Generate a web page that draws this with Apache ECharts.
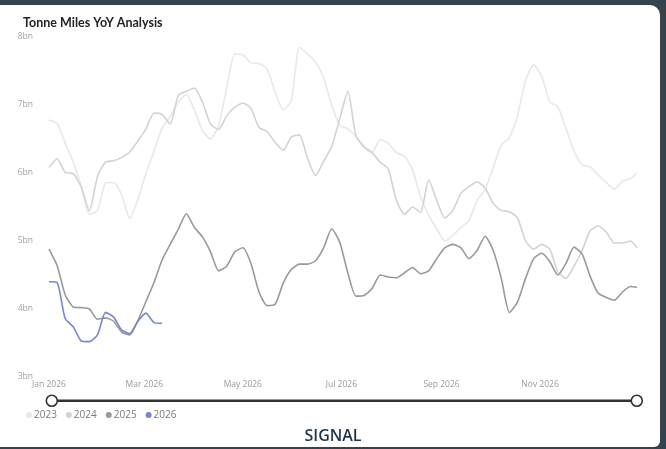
<!DOCTYPE html>
<html>
<head>
<meta charset="utf-8">
<script src="https://cdn.jsdelivr.net/npm/echarts@6/dist/echarts.min.js"></script>
<style>
  html, body { margin: 0; padding: 0; width: 666px; height: 449px; overflow: hidden; background: #34434d; }
  #card { position: absolute; left: 0; top: 5px; width: 660px; height: 442px; background: #ffffff; border-radius: 0 10px 6px 0; }
  #chart { position: absolute; left: 0; top: 0; width: 666px; height: 449px; }
</style>
</head>
<body>
<div id="card"></div>
<div id="chart"></div>
<script>
// ---- data (values in billions of tonne-miles, sampled every 5 days from Jan 1) ----
const seriesNames = ['2023', '2024', '2025', '2026'];
const stepDays = 5;
const lastDay = 364;
const tickDays = [0, 59, 120, 181, 243, 304];
const tickLabels = ['Jan 2026', 'Mar 2026', 'May 2026', 'Jul 2026', 'Sep 2026', 'Nov 2026'];
const yTicks = [3, 4, 5, 6, 7, 8];

const values2023 = [6.78, 6.73, 6.44, 6.16, 5.80, 5.39, 5.45, 5.85, 5.86, 5.68,
  5.33, 5.61, 5.99, 6.32, 6.66, 6.83, 7.04, 7.15, 6.93, 6.62,
  6.50, 6.70, 7.25, 7.75, 7.74, 7.62, 7.61, 7.53, 7.19, 6.93,
  7.06, 7.85, 7.75, 7.63, 7.40, 7.00, 6.70, 6.65, 6.53, 6.37,
  6.30, 6.49, 6.44, 6.30, 6.25, 6.05, 5.65, 5.38, 5.18, 5.00,
  5.08, 5.20, 5.30, 5.60, 5.76, 6.08, 6.41, 6.52, 6.84, 7.36,
  7.59, 7.42, 7.05, 6.97, 6.66, 6.32, 6.12, 6.09, 5.97, 5.86,
  5.76, 5.88, 5.92, 6.00];
const values2024 = [6.08, 6.21, 6.01, 5.99, 5.79, 5.44, 5.95, 6.16, 6.18, 6.23,
  6.31, 6.47, 6.65, 6.88, 6.86, 6.72, 7.14, 7.20, 7.25, 7.04,
  6.72, 6.64, 6.84, 6.97, 7.03, 6.95, 6.67, 6.61, 6.45, 6.33,
  6.53, 6.56, 6.22, 5.96, 6.17, 6.39, 6.80, 7.20, 6.55, 6.39,
  6.30, 6.16, 6.06, 5.60, 5.39, 5.50, 5.42, 5.90, 5.60, 5.34,
  5.45, 5.70, 5.80, 5.87, 5.78, 5.55, 5.45, 5.43, 5.34, 5.00,
  4.88, 4.95, 4.88, 4.55, 4.45, 4.63, 4.86, 5.15, 5.22, 5.13,
  4.97, 4.97, 5.00, 4.90];
const values2025 = [4.88, 4.64, 4.21, 4.03, 4.02, 4.00, 3.85, 3.87, 3.82, 3.66,
  3.62, 3.83, 4.11, 4.39, 4.72, 4.95, 5.17, 5.40, 5.20, 5.06,
  4.84, 4.56, 4.63, 4.84, 4.90, 4.67, 4.25, 4.05, 4.07, 4.38,
  4.58, 4.66, 4.66, 4.71, 4.90, 5.18, 4.98, 4.53, 4.19, 4.20,
  4.30, 4.50, 4.47, 4.46, 4.53, 4.61, 4.52, 4.56, 4.74, 4.90,
  4.95, 4.90, 4.74, 4.86, 5.07, 4.86, 4.45, 3.95, 4.10, 4.45,
  4.74, 4.82, 4.70, 4.50, 4.67, 4.91, 4.81, 4.48, 4.23, 4.17,
  4.13, 4.25, 4.33, 4.32];
const values2026 = [4.40, 4.39, 3.86, 3.74, 3.53, 3.52, 3.62, 3.95, 3.88, 3.69,
  3.64, 3.82, 3.94, 3.80, 3.79];

const lineColors = ['#e8e8e8', '#d3d3d3', '#999999', '#7686d4'];

// ---- build ----
const allValues = [values2023, values2024, values2025, values2026];
function toPairs(vals) {
  return vals.map((v, i) => [Math.min(i * stepDays, lastDay), v]);
}
const chart = echarts.init(document.getElementById('chart'), null, { renderer: 'canvas' });
const FONT = '"Open Sans", "Noto Sans", sans-serif';

const option = {
  animation: false,
  backgroundColor: 'transparent',
  textStyle: { fontFamily: FONT },
  title: {
    text: 'Tonne Miles YoY Analysis',
    left: 18, top: 11,
    textStyle: { fontFamily: 'Lato, "Open Sans", sans-serif', fontSize: 12.5, fontWeight: 'bold', color: '#252423' }
  },
  grid: { left: 49, right: 29, top: 37, bottom: 72, containLabel: false },
  xAxis: {
    type: 'value', min: 0, max: lastDay,
    axisLine: { show: false }, axisTick: { show: false }, splitLine: { show: false },
    axisLabel: {
      customValues: tickDays,
      formatter: function (v) { const k = tickDays.indexOf(v); return k >= 0 ? tickLabels[k] : ''; },
      color: '#9a9a9a', fontSize: 8.5, margin: 3, fontFamily: FONT
    }
  },
  yAxis: {
    type: 'value', min: yTicks[0], max: yTicks[yTicks.length - 1], interval: 1,
    axisLine: { show: false }, axisTick: { show: false }, splitLine: { show: false },
    axisLabel: { formatter: '{value}bn', color: '#a5a5a5', fontSize: 8.5, margin: 16, fontFamily: FONT }
  },
  legend: {
    data: seriesNames,
    left: 21, top: 405,
    icon: 'circle', itemWidth: 6, itemHeight: 6, itemGap: 9,
    textStyle: { color: '#7a7a7a', fontSize: 10, fontFamily: FONT, padding: [0, 0, 0, -3] }
  },
  dataZoom: [{
    type: 'slider', xAxisIndex: 0, filterMode: 'none',
    left: 49, right: 30, top: 399, height: 2.5,
    start: 0, end: 100,
    backgroundColor: 'rgba(0,0,0,0)', borderColor: 'rgba(0,0,0,0)',
    fillerColor: '#333333',
    showDataShadow: false, showDetail: false, brushSelect: false,
    dataBackground: { lineStyle: { opacity: 0 }, areaStyle: { opacity: 0 } },
    selectedDataBackground: { lineStyle: { opacity: 0 }, areaStyle: { opacity: 0 } },
    handleIcon: 'circle', handleSize: 11,
    handleStyle: { color: '#ffffff', borderColor: '#333333', borderWidth: 1.6 },
    moveHandleSize: 0
  }],
  graphic: [{
    type: 'text', left: 'center', top: 428,
    style: { text: 'SIGNAL', fill: '#1f3447', font: '600 16px "Open Sans", sans-serif' }
  }],
  series: seriesNames.map((name, k) => ({
    name: name, type: 'line', data: toPairs(allValues[k]),
    showSymbol: false, smooth: 0.2, z: 2 + k,
    lineStyle: { color: lineColors[k], width: 1.6 },
    itemStyle: { color: lineColors[k] }
  }))
};
chart.setOption(option);
</script>
</body>
</html>
